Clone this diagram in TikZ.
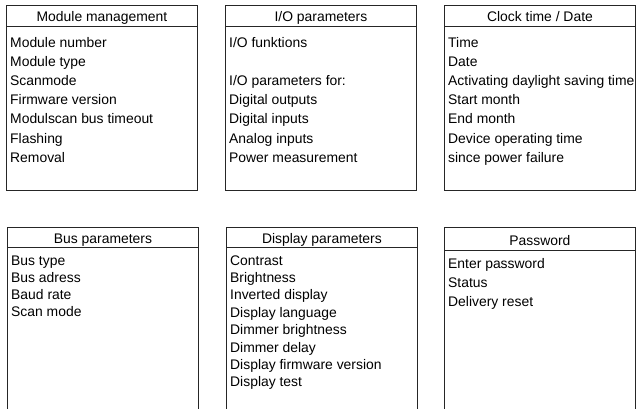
\documentclass[tikz,border=0pt]{standalone}
\usepackage{fontspec}
\setmainfont{Liberation Sans}
\tikzset{
  panel/.style={draw=black!85, line width=0.9pt, anchor=north west, inner sep=0pt},
  rule/.style={draw=black!85, line width=0.9pt},
  ttl/.style={anchor=base, inner sep=0pt, font=\fontsize{13.9}{16}\selectfont},
  itm/.style={anchor=base west, inner sep=0pt, font=\fontsize{13.9}{16}\selectfont},
}
% offsets below the box top: header rule, title baseline, first item baseline
\newcommand\hdr{21}\newcommand\ttlb{16}\newcommand\itoff{42}
% #1 name, #2 x, #3 y, #4 width, #5 height, #6 title, #7 pitch, #8 items
\newcommand\mkpanel[8]{%
  \node[panel, minimum width=#4pt, minimum height=#5pt] (#1) at (#2,#3) {};
  \draw[rule] ([yshift=-\hdr pt]#1.north west) -- ([yshift=-\hdr pt]#1.north east);
  \node[ttl] (#1-title) at ([yshift=-\ttlb pt]#1.north) {#6};
  \foreach \t [count=\i from 0] in {#8}
    \node[itm] (#1-\i) at ([xshift=4pt, yshift={-(\itoff+\i*#7)*1pt}]#1.north west) {\t};
}
\begin{document}
\begin{tikzpicture}[x=1pt,y=-1pt]
\useasboundingbox (0,0) rectangle (637,408);
\clip (0,0) rectangle (637,408);
\fill[white] (0,0) rectangle (637,408);
% top row
\renewcommand\hdr{21.5}\renewcommand\ttlb{16}\renewcommand\itoff{42}
\mkpanel{mm}{6}{5}{191}{185}{Module management}{19.2}{Module number, Module type, Scanmode, Firmware version, Modulscan bus timeout, Flashing, Removal}
\mkpanel{io}{225}{5}{191}{185}{I/O parameters}{19.2}{I/O funktions}
\foreach \t [count=\i from 2] in {I/O parameters for:, Digital outputs, Digital inputs, Analog inputs, Power measurement}
  \node[itm] (io-\i) at ([xshift=4pt, yshift={-(42+\i*19.2)*1pt}]io.north west) {\t};
\mkpanel{ck}{444}{5}{191}{185}{Clock time / Date}{19.2}{Time, Date, Activating daylight saving time, Start month, End month, Device operating time, since power failure}
% bottom row
\renewcommand\hdr{20}\renewcommand\ttlb{16}\renewcommand\itoff{38}
\mkpanel{bus}{7}{227}{191}{210}{Bus parameters}{17.3}{Bus type, Bus adress, Baud rate, Scan mode}
\mkpanel{dsp}{226}{227}{191}{210}{Display parameters}{17.4}{Contrast, Brightness, Inverted display, Display language, Dimmer brightness, Dimmer delay, Display firmware version, Display test}
\renewcommand\hdr{23}\renewcommand\ttlb{18}\renewcommand\itoff{41}
\mkpanel{pw}{444}{227}{191}{210}{Password}{19.2}{Enter password, Status, Delivery reset}
\end{tikzpicture}
\end{document}
